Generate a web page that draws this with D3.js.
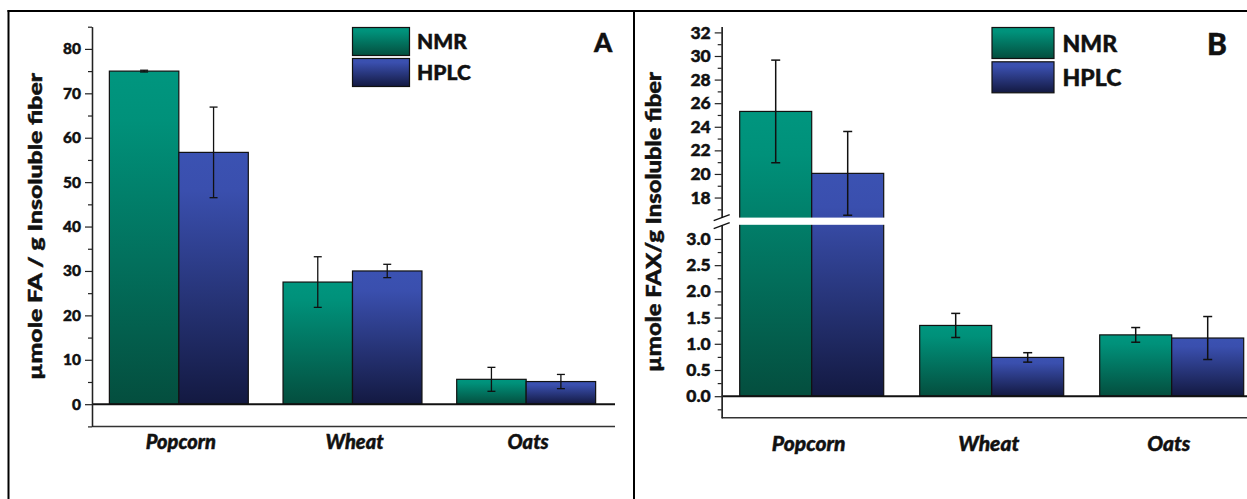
<!DOCTYPE html>
<html><head><meta charset="utf-8">
<script src="https://cdn.jsdelivr.net/npm/d3@7"></script>
<style>
body{margin:0;background:#fff}
svg{display:block}
text{font-family:Lato,"Open Sans",sans-serif;font-weight:900;fill:#111;stroke:#111;stroke-width:0.45px}
</style>
</head><body>
<svg id="c" width="1247" height="499"></svg>
<script>
// ---------- data ----------
const categories = ["Popcorn", "Wheat", "Oats"];
const seriesNames = ["NMR", "HPLC"];
// Panel A: µmole FA / g insoluble fiber
const faNMR = [75.0, 27.5, 5.6];
const faNMRErr = [0.2, 5.7, 2.7];
const faHPLC = [56.7, 30.0, 5.1];
const faHPLCErr = [10.2, 1.5, 1.6];
// Panel B: µmole FAX / g insoluble fiber
const faxNMR = [25.3, 1.35, 1.17];
const faxNMRErr = [4.35, 0.23, 0.14];
const faxHPLC = [20.05, 0.74, 1.11];
const faxHPLCErr = [3.55, 0.09, 0.41];
// tick labels
const ticksA = [0, 10, 20, 30, 40, 50, 60, 70, 80];
const ticksBUpper = [18, 20, 22, 24, 26, 28, 30, 32];
const ticksBLower = [0, 0.5, 1.0, 1.5, 2.0, 2.5, 3.0];

const FONT = "Lato, 'Open Sans', sans-serif";
const svg = d3.select("#c");
const defs = svg.append("defs");
const gradColors = {
  NMR: ["#00967f", "#00917a", "#044e3e"],
  HPLC: ["#3b52b2", "#3a4fae", "#131941"]
};
seriesNames.forEach(s => {
  const g = defs.append("linearGradient").attr("id", "g" + s)
    .attr("x1", 0).attr("y1", 0).attr("x2", 0).attr("y2", 1);
  g.append("stop").attr("offset", 0).attr("stop-color", gradColors[s][0]);
  g.append("stop").attr("offset", 0.15).attr("stop-color", gradColors[s][1]);
  g.append("stop").attr("offset", 1).attr("stop-color", gradColors[s][2]);
});

// ---------- panel frames ----------
svg.append("line").attr("x1", 8.5).attr("x2", 8.5).attr("y1", 10).attr("y2", 499).attr("stroke", "#000").attr("stroke-width", 2);
svg.append("line").attr("x1", 7.5).attr("x2", 1247).attr("y1", 11).attr("y2", 11).attr("stroke", "#000").attr("stroke-width", 2);
svg.append("line").attr("x1", 634).attr("x2", 634).attr("y1", 10).attr("y2", 499).attr("stroke", "#000").attr("stroke-width", 2);

function styleAxis(g, fs) {
  g.attr("font-family", null).attr("font-size", null);
  g.selectAll("text").style("font-size", fs + "px").style("font-weight", "900").attr("fill", "#111")
    .style("font-family", FONT);
  g.selectAll("line").attr("stroke", "#222").attr("stroke-width", 1.2);
  g.select(".domain").attr("stroke", "#222").attr("stroke-width", 1.3);
}

function makeData(v1, e1, v2, e2) {
  const out = [];
  categories.forEach((c, i) => {
    out.push({cat: c, s: "NMR", v: v1[i], e: e1[i]});
    out.push({cat: c, s: "HPLC", v: v2[i], e: e2[i]});
  });
  return out;
}

// ---------- Panel A ----------
(function () {
  const y = d3.scaleLinear().domain([-5, 85]).range([426.4, 26.7]);
  const x = d3.scaleBand().domain(categories).range([92, 613]).paddingInner(0.2).paddingOuter(0.1);
  const xs = d3.scaleBand().domain(seriesNames).range([0, x.bandwidth()]);
  const data = makeData(faNMR, faNMRErr, faHPLC, faHPLCErr);
  const x0 = x.range()[0], xEnd = x.range()[1] + 2;

  svg.append("line").attr("x1", x0).attr("x2", xEnd).attr("y1", y(-5)).attr("y2", y(-5)).attr("stroke", "#333").attr("stroke-width", 1.5);

  svg.append("g").selectAll("rect").data(data).join("rect")
    .attr("x", d => x(d.cat) + xs(d.s))
    .attr("y", d => y(d.v))
    .attr("width", xs.bandwidth())
    .attr("height", d => y(0) - y(d.v))
    .attr("fill", d => "url(#g" + d.s + ")")
    .attr("stroke", "#111").attr("stroke-width", 1.2);

  svg.append("line").attr("x1", x0).attr("x2", xEnd).attr("y1", y(0)).attr("y2", y(0)).attr("stroke", "#111").attr("stroke-width", 2);

  const eg = svg.append("g").attr("stroke", "#111").attr("stroke-width", 1.3);
  data.forEach(d => {
    const cx = x(d.cat) + xs(d.s) + xs.bandwidth() / 2;
    eg.append("line").attr("x1", cx).attr("x2", cx).attr("y1", y(d.v - d.e)).attr("y2", y(d.v + d.e));
    eg.append("line").attr("x1", cx - 4).attr("x2", cx + 4).attr("y1", y(d.v - d.e)).attr("y2", y(d.v - d.e));
    eg.append("line").attr("x1", cx - 4).attr("x2", cx + 4).attr("y1", y(d.v + d.e)).attr("y2", y(d.v + d.e));
  });

  const minors = d3.range(-5, 86, 5).filter(v => !ticksA.includes(v));
  const gMin = svg.append("g").attr("transform", `translate(${x0},0)`)
    .call(d3.axisLeft(y).tickValues(minors).tickSize(4).tickSizeOuter(0).tickFormat(""));
  styleAxis(gMin, 15);
  const gMaj = svg.append("g").attr("transform", `translate(${x0},0)`)
    .call(d3.axisLeft(y).tickValues(ticksA).tickSize(7).tickSizeOuter(0).tickPadding(4).tickFormat(d3.format("d")));
  styleAxis(gMaj, 15.5);

  svg.append("g").selectAll("text").data(categories).join("text")
    .attr("x", d => x(d) + x.bandwidth() / 2 + 2).attr("y", 449)
    .attr("text-anchor", "middle").style("font-size", "20px").style("font-style", "italic").text(d => d);

  svg.append("text").attr("transform", "translate(41.5,226.5) rotate(-90)")
    .attr("text-anchor", "middle").style("font-size", "18px")
    .attr("textLength", 307).attr("lengthAdjust", "spacingAndGlyphs")
    .text("µmole FA / g Insoluble fiber");

  const lg = svg.append("g");
  seriesNames.forEach((s, i) => {
    lg.append("rect").attr("x", 352.5).attr("y", 27.5 + i * 31).attr("width", 57).attr("height", 28)
      .attr("fill", "url(#g" + s + ")").attr("stroke", "#111").attr("stroke-width", 1.2);
    lg.append("text").attr("x", 417).attr("y", 48.5 + i * 31.5).style("font-size", "21px").text(s);
  });
  svg.append("text").attr("x", 594).attr("y", 52).style("font-size", "26px").text("A");
})();

// ---------- Panel B ----------
(function () {
  const breakLow = 3.27, breakHigh = 16.3;
  const yU = d3.scaleLinear().domain([breakHigh, 32.5]).range([217.6, 26.5]);
  const yL = d3.scaleLinear().domain([-0.41, breakLow]).range([417.7, 224.8]);
  const y = v => v >= breakHigh ? yU(v) : yL(Math.min(v, breakLow));
  const x = d3.scaleBand().domain(categories).range([721.7, 1261.7]).paddingInner(0.2).paddingOuter(0.1);
  const xs = d3.scaleBand().domain(seriesNames).range([0, x.bandwidth()]);
  const data = makeData(faxNMR, faxNMRErr, faxHPLC, faxHPLCErr);
  const x0 = x.range()[0], xEnd = 1247;

  svg.append("line").attr("x1", x0).attr("x2", xEnd).attr("y1", yL(-0.41)).attr("y2", yL(-0.41)).attr("stroke", "#333").attr("stroke-width", 1.5);

  svg.append("g").selectAll("rect").data(data).join("rect")
    .attr("x", d => x(d.cat) + xs(d.s))
    .attr("y", d => y(d.v))
    .attr("width", xs.bandwidth())
    .attr("height", d => yL(0) - y(d.v))
    .attr("fill", d => "url(#g" + d.s + ")")
    .attr("stroke", "#111").attr("stroke-width", 1.2);

  svg.append("rect").attr("x", x0 + 8).attr("y", yU(breakHigh)).attr("width", xEnd - x0)
    .attr("height", yL(breakLow) - yU(breakHigh)).attr("fill", "#fff");

  svg.append("line").attr("x1", x0).attr("x2", xEnd).attr("y1", yL(0)).attr("y2", yL(0)).attr("stroke", "#111").attr("stroke-width", 2);

  const eg = svg.append("g").attr("stroke", "#111").attr("stroke-width", 1.5);
  data.forEach(d => {
    const cx = x(d.cat) + xs(d.s) + xs.bandwidth() / 2;
    const lo = y(d.v - d.e), hi = y(d.v + d.e);
    eg.append("line").attr("x1", cx).attr("x2", cx).attr("y1", lo).attr("y2", hi);
    eg.append("line").attr("x1", cx - 4.5).attr("x2", cx + 4.5).attr("y1", lo).attr("y2", lo);
    eg.append("line").attr("x1", cx - 4.5).attr("x2", cx + 4.5).attr("y1", hi).attr("y2", hi);
  });

  const minorsU = d3.range(17, 33, 1).filter(v => !ticksBUpper.includes(v));
  const minorsL = d3.range(-1, 13).map(i => i * 0.25).filter(v => !ticksBLower.includes(v));
  const axes = [
    [yU, minorsU, 4, null], [yU, ticksBUpper, 7, d3.format("d")],
    [yL, minorsL, 4, null], [yL, ticksBLower, 7, d3.format(".1f")]
  ];
  axes.forEach(([sc, vals, sz, fmt]) => {
    const a = d3.axisLeft(sc).tickValues(vals).tickSize(sz).tickSizeOuter(0).tickPadding(4);
    a.tickFormat(fmt ? fmt : () => "");
    const g = svg.append("g").attr("transform", `translate(${x0},0)`).call(a);
    styleAxis(g, 17.5);
  });

  const bm = svg.append("g").attr("stroke", "#111").attr("stroke-width", 1.4);
  const midY = (yU(breakHigh) + yL(breakLow)) / 2;
  bm.append("line").attr("x1", x0 - 8).attr("x2", x0 + 8).attr("y1", midY - 0.5).attr("y2", midY - 6.5);
  bm.append("line").attr("x1", x0 - 8).attr("x2", x0 + 8).attr("y1", midY + 7.5).attr("y2", midY + 1.5);

  svg.append("g").selectAll("text").data(categories).join("text")
    .attr("x", d => x(d) + x.bandwidth() / 2 - 3).attr("y", 451)
    .attr("text-anchor", "middle").style("font-size", "21px").style("font-style", "italic").text(d => d);

  svg.append("text").attr("transform", "translate(661,222) rotate(-90)")
    .attr("text-anchor", "middle").style("font-size", "20px")
    .attr("textLength", 300).attr("lengthAdjust", "spacingAndGlyphs")
    .text("µmole FAX/g Insoluble fiber");

  const lg = svg.append("g");
  seriesNames.forEach((s, i) => {
    lg.append("rect").attr("x", 992).attr("y", 27.5 + i * 34.3).attr("width", 62).attr("height", 31)
      .attr("fill", "url(#g" + s + ")").attr("stroke", "#111").attr("stroke-width", 1.2);
    lg.append("text").attr("x", 1062.5).attr("y", 51.5 + i * 34).style("font-size", "23px").text(s);
  });
  svg.append("text").attr("x", 1207).attr("y", 54.5).style("font-size", "30px").text("B");
})();
</script>
</body></html>
